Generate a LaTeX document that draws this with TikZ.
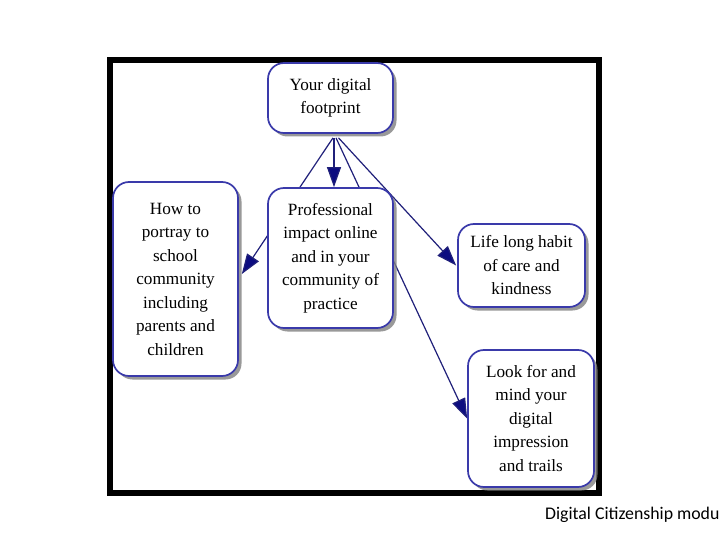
\documentclass[tikz,border=0pt]{standalone}
\usepackage{fontspec}
\setmainfont{Liberation Serif}
\newfontfamily\capfont{Carlito}
\usetikzlibrary{shadows,arrows.meta,backgrounds}
\definecolor{boxblue}{HTML}{3A3AAA}
\definecolor{edgenavy}{HTML}{20207A}
\definecolor{tipnavy}{HTML}{0C0C80}
\tikzset{
  topic/.style={draw=boxblue, line width=1.7pt, fill=white, rounded corners=16pt,
    align=center, inner sep=2pt, font=\fontsize{17.2}{23.5}\selectfont,
    drop shadow={shadow xshift=3.5pt, shadow yshift=-3.5pt, fill=black!50, opacity=0.8}},
  link/.style={draw=edgenavy, line width=1.2pt,
    -{Triangle[length=20pt,width=14pt,fill=tipnavy]}}
}
\begin{document}
\begin{tikzpicture}[x=1pt,y=-1pt]
\useasboundingbox (0,0) rectangle (720,540);
\node[topic, minimum width=125pt, minimum height=70pt] (top) at (330.5,98) {Your digital\\footprint};
\node[topic, minimum width=125pt, minimum height=194pt] (howto) at (175.5,279) {How to\\portray to\\school\\community\\including\\parents and\\children};
\node[topic, minimum width=125pt, minimum height=140pt] (prof) at (330.5,258) {Professional\\impact online\\and in your\\community of\\practice};
\node[topic, minimum width=127pt, minimum height=83pt] (life) at (521.5,265.5) {Life long habit\\of care and\\kindness};
\node[topic, minimum width=126pt, minimum height=137pt] (look) at (531,418.5) {Look for and\\mind your\\digital\\impression\\and trails};
\node[anchor=base west, inner sep=0pt, font=\capfont\fontsize{17.8}{20}\selectfont] (cap) at (545,519) {Digital Citizenship modu};
\begin{scope}[on background layer]
  \fill[white] (0,0) rectangle (720,540);
  \draw[line width=6pt] (110,60) rectangle (599,492.5);
  \draw[link] ([xshift=2.5pt,yshift=-4pt]top.south) -- ([xshift=3pt,yshift=5pt]howto.east);
  \draw[link] ([xshift=5.5pt,yshift=-4pt]top.south) -- (look.west);
  \draw[link] ([xshift=8pt,yshift=-4pt]top.south) -- ([xshift=-1pt]life.west);
  \draw[link] ([xshift=3.5pt,yshift=-4pt]top.south) -- ([xshift=3.5pt]prof.north);
\end{scope}
\end{tikzpicture}
\end{document}
